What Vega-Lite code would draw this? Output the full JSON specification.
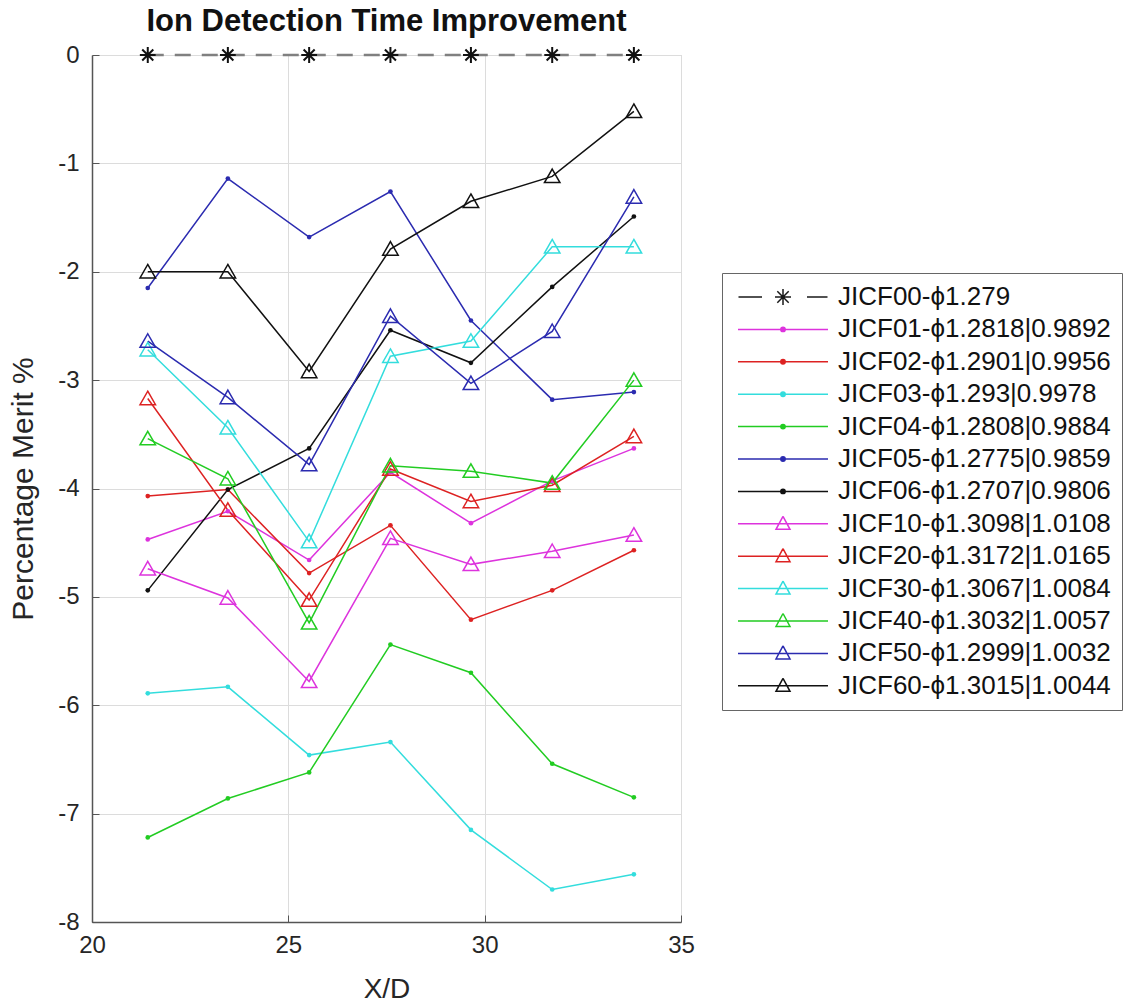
{
  "$schema": "https://vega.github.io/schema/vega-lite/v6.json",
  "width": 589,
  "height": 867,
  "autosize": {"type": "none"},
  "padding": {"left": 92, "top": 55, "right": 442, "bottom": 85},
  "background": "white",
  "title": {"text": "Ion Detection Time Improvement", "fontSize": 31, "fontWeight": "bold", "font": "Liberation Sans", "color": "#111111", "anchor": "middle", "offset": 5},
  "config": {
    "font": "Liberation Sans",
    "view": {"stroke": "#c8c8c8", "strokeWidth": 1}
  },
  "datasets": {
    "d": [
      {"s": "JICF00-ϕ1.279", "x": 21.42, "y": 0}, {"s": "JICF00-ϕ1.279", "x": 23.46, "y": 0}, {"s": "JICF00-ϕ1.279", "x": 25.53, "y": 0}, {"s": "JICF00-ϕ1.279", "x": 27.6, "y": 0}, {"s": "JICF00-ϕ1.279", "x": 29.65, "y": 0}, {"s": "JICF00-ϕ1.279", "x": 31.72, "y": 0}, {"s": "JICF00-ϕ1.279", "x": 33.8, "y": 0},
      {"s": "JICF01-ϕ1.2818|0.9892", "x": 21.42, "y": -4.47}, {"s": "JICF01-ϕ1.2818|0.9892", "x": 23.46, "y": -4.21}, {"s": "JICF01-ϕ1.2818|0.9892", "x": 25.53, "y": -4.66}, {"s": "JICF01-ϕ1.2818|0.9892", "x": 27.6, "y": -3.85}, {"s": "JICF01-ϕ1.2818|0.9892", "x": 29.65, "y": -4.32}, {"s": "JICF01-ϕ1.2818|0.9892", "x": 31.72, "y": -3.93}, {"s": "JICF01-ϕ1.2818|0.9892", "x": 33.8, "y": -3.63},
      {"s": "JICF02-ϕ1.2901|0.9956", "x": 21.42, "y": -4.07}, {"s": "JICF02-ϕ1.2901|0.9956", "x": 23.46, "y": -4.01}, {"s": "JICF02-ϕ1.2901|0.9956", "x": 25.53, "y": -4.78}, {"s": "JICF02-ϕ1.2901|0.9956", "x": 27.6, "y": -4.34}, {"s": "JICF02-ϕ1.2901|0.9956", "x": 29.65, "y": -5.21}, {"s": "JICF02-ϕ1.2901|0.9956", "x": 31.72, "y": -4.94}, {"s": "JICF02-ϕ1.2901|0.9956", "x": 33.8, "y": -4.57},
      {"s": "JICF03-ϕ1.293|0.9978", "x": 21.42, "y": -5.89}, {"s": "JICF03-ϕ1.293|0.9978", "x": 23.46, "y": -5.83}, {"s": "JICF03-ϕ1.293|0.9978", "x": 25.53, "y": -6.46}, {"s": "JICF03-ϕ1.293|0.9978", "x": 27.6, "y": -6.34}, {"s": "JICF03-ϕ1.293|0.9978", "x": 29.65, "y": -7.15}, {"s": "JICF03-ϕ1.293|0.9978", "x": 31.72, "y": -7.7}, {"s": "JICF03-ϕ1.293|0.9978", "x": 33.8, "y": -7.56},
      {"s": "JICF04-ϕ1.2808|0.9884", "x": 21.42, "y": -7.22}, {"s": "JICF04-ϕ1.2808|0.9884", "x": 23.46, "y": -6.86}, {"s": "JICF04-ϕ1.2808|0.9884", "x": 25.53, "y": -6.62}, {"s": "JICF04-ϕ1.2808|0.9884", "x": 27.6, "y": -5.44}, {"s": "JICF04-ϕ1.2808|0.9884", "x": 29.65, "y": -5.7}, {"s": "JICF04-ϕ1.2808|0.9884", "x": 31.72, "y": -6.54}, {"s": "JICF04-ϕ1.2808|0.9884", "x": 33.8, "y": -6.85},
      {"s": "JICF05-ϕ1.2775|0.9859", "x": 21.42, "y": -2.15}, {"s": "JICF05-ϕ1.2775|0.9859", "x": 23.46, "y": -1.14}, {"s": "JICF05-ϕ1.2775|0.9859", "x": 25.53, "y": -1.68}, {"s": "JICF05-ϕ1.2775|0.9859", "x": 27.6, "y": -1.26}, {"s": "JICF05-ϕ1.2775|0.9859", "x": 29.65, "y": -2.45}, {"s": "JICF05-ϕ1.2775|0.9859", "x": 31.72, "y": -3.18}, {"s": "JICF05-ϕ1.2775|0.9859", "x": 33.8, "y": -3.11},
      {"s": "JICF06-ϕ1.2707|0.9806", "x": 21.42, "y": -4.94}, {"s": "JICF06-ϕ1.2707|0.9806", "x": 23.46, "y": -4.01}, {"s": "JICF06-ϕ1.2707|0.9806", "x": 25.53, "y": -3.63}, {"s": "JICF06-ϕ1.2707|0.9806", "x": 27.6, "y": -2.54}, {"s": "JICF06-ϕ1.2707|0.9806", "x": 29.65, "y": -2.84}, {"s": "JICF06-ϕ1.2707|0.9806", "x": 31.72, "y": -2.14}, {"s": "JICF06-ϕ1.2707|0.9806", "x": 33.8, "y": -1.49},
      {"s": "JICF10-ϕ1.3098|1.0108", "x": 21.42, "y": -4.74}, {"s": "JICF10-ϕ1.3098|1.0108", "x": 23.46, "y": -5.01}, {"s": "JICF10-ϕ1.3098|1.0108", "x": 25.53, "y": -5.78}, {"s": "JICF10-ϕ1.3098|1.0108", "x": 27.6, "y": -4.46}, {"s": "JICF10-ϕ1.3098|1.0108", "x": 29.65, "y": -4.7}, {"s": "JICF10-ϕ1.3098|1.0108", "x": 31.72, "y": -4.58}, {"s": "JICF10-ϕ1.3098|1.0108", "x": 33.8, "y": -4.43},
      {"s": "JICF20-ϕ1.3172|1.0165", "x": 21.42, "y": -3.17}, {"s": "JICF20-ϕ1.3172|1.0165", "x": 23.46, "y": -4.2}, {"s": "JICF20-ϕ1.3172|1.0165", "x": 25.53, "y": -5.03}, {"s": "JICF20-ϕ1.3172|1.0165", "x": 27.6, "y": -3.82}, {"s": "JICF20-ϕ1.3172|1.0165", "x": 29.65, "y": -4.12}, {"s": "JICF20-ϕ1.3172|1.0165", "x": 31.72, "y": -3.97}, {"s": "JICF20-ϕ1.3172|1.0165", "x": 33.8, "y": -3.52},
      {"s": "JICF30-ϕ1.3067|1.0084", "x": 21.42, "y": -2.72}, {"s": "JICF30-ϕ1.3067|1.0084", "x": 23.46, "y": -3.44}, {"s": "JICF30-ϕ1.3067|1.0084", "x": 25.53, "y": -4.49}, {"s": "JICF30-ϕ1.3067|1.0084", "x": 27.6, "y": -2.78}, {"s": "JICF30-ϕ1.3067|1.0084", "x": 29.65, "y": -2.64}, {"s": "JICF30-ϕ1.3067|1.0084", "x": 31.72, "y": -1.77}, {"s": "JICF30-ϕ1.3067|1.0084", "x": 33.8, "y": -1.77},
      {"s": "JICF40-ϕ1.3032|1.0057", "x": 21.42, "y": -3.54}, {"s": "JICF40-ϕ1.3032|1.0057", "x": 23.46, "y": -3.91}, {"s": "JICF40-ϕ1.3032|1.0057", "x": 25.53, "y": -5.24}, {"s": "JICF40-ϕ1.3032|1.0057", "x": 27.6, "y": -3.79}, {"s": "JICF40-ϕ1.3032|1.0057", "x": 29.65, "y": -3.84}, {"s": "JICF40-ϕ1.3032|1.0057", "x": 31.72, "y": -3.95}, {"s": "JICF40-ϕ1.3032|1.0057", "x": 33.8, "y": -3.0},
      {"s": "JICF50-ϕ1.2999|1.0032", "x": 21.42, "y": -2.64}, {"s": "JICF50-ϕ1.2999|1.0032", "x": 23.46, "y": -3.16}, {"s": "JICF50-ϕ1.2999|1.0032", "x": 25.53, "y": -3.78}, {"s": "JICF50-ϕ1.2999|1.0032", "x": 27.6, "y": -2.41}, {"s": "JICF50-ϕ1.2999|1.0032", "x": 29.65, "y": -3.03}, {"s": "JICF50-ϕ1.2999|1.0032", "x": 31.72, "y": -2.55}, {"s": "JICF50-ϕ1.2999|1.0032", "x": 33.8, "y": -1.31},
      {"s": "JICF60-ϕ1.3015|1.0044", "x": 21.42, "y": -2.0}, {"s": "JICF60-ϕ1.3015|1.0044", "x": 23.46, "y": -2.0}, {"s": "JICF60-ϕ1.3015|1.0044", "x": 25.53, "y": -2.92}, {"s": "JICF60-ϕ1.3015|1.0044", "x": 27.6, "y": -1.79}, {"s": "JICF60-ϕ1.3015|1.0044", "x": 29.65, "y": -1.35}, {"s": "JICF60-ϕ1.3015|1.0044", "x": 31.72, "y": -1.12}, {"s": "JICF60-ϕ1.3015|1.0044", "x": 33.8, "y": -0.52}
    ]
  },
  "data": {"name": "d"},
  "encoding": {
    "x": {
      "field": "x", "type": "quantitative",
      "scale": {"domain": [20, 35], "nice": false, "zero": false},
      "axis": {
        "values": [20, 25, 30, 35], "title": "X/D", "titleFontSize": 28, "titleFontWeight": "normal", "titleColor": "#262626", "titlePadding": 18,
        "labelFontSize": 24, "labelColor": "#262626", "labelPadding": 18, "labelFlush": false, "labelExpr": "'' + datum.value",
        "domainColor": "#555555", "domainWidth": 1.5, "tickColor": "#555555", "tickSize": -7, "tickWidth": 1,
        "grid": true, "gridColor": "#dcdcdc", "gridWidth": 1
      }
    },
    "y": {
      "field": "y", "type": "quantitative",
      "scale": {"domain": [-8, 0], "nice": false, "zero": false},
      "axis": {
        "values": [-8, -7, -6, -5, -4, -3, -2, -1, 0], "title": "Percentage Merit %", "titleFontSize": 30, "titleFontWeight": "normal", "titleColor": "#262626", "titlePadding": 19,
        "labelFontSize": 24, "labelColor": "#262626", "labelPadding": 20, "labelFlush": false, "labelExpr": "'' + datum.value",
        "domainColor": "#555555", "domainWidth": 1.5, "tickColor": "#555555", "tickSize": -7, "tickWidth": 1,
        "grid": true, "gridColor": "#dcdcdc", "gridWidth": 1
      }
    }
  },
  "layer": [
    {
      "mark": {"type": "point", "filled": false, "opacity": 0},
      "encoding": {
        "color": {
          "field": "s", "type": "nominal",
          "scale": {
            "domain": ["JICF00-ϕ1.279", "JICF01-ϕ1.2818|0.9892", "JICF02-ϕ1.2901|0.9956", "JICF03-ϕ1.293|0.9978", "JICF04-ϕ1.2808|0.9884", "JICF05-ϕ1.2775|0.9859", "JICF06-ϕ1.2707|0.9806", "JICF10-ϕ1.3098|1.0108", "JICF20-ϕ1.3172|1.0165", "JICF30-ϕ1.3067|1.0084", "JICF40-ϕ1.3032|1.0057", "JICF50-ϕ1.2999|1.0032", "JICF60-ϕ1.3015|1.0044"],
            "range": ["#1a1a1a", "#dd33dd", "#dd2222", "#33dddd", "#22cc22", "#2b2bb0", "#111111", "#dd33dd", "#dd2222", "#33dddd", "#22cc22", "#2b2bb0", "#111111"]
          },
          "legend": {"title": null, "orient": "none", "legendX": 630, "legendY": 218, "symbolSize": 400, "symbolOffset": 37, "symbolStrokeWidth": 1.5, "symbolOpacity": 1, "symbolFillColor": "transparent", "labelFontSize": 26, "labelFont": "Liberation Sans", "labelColor": "#111111", "labelOffset": 42, "rowPadding": 6.4, "padding": 11, "strokeColor": "#666666", "fillColor": "white", "labelLimit": 500}
        },
        "shape": {
          "field": "s", "type": "nominal",
          "scale": {
            "domain": ["JICF00-ϕ1.279", "JICF01-ϕ1.2818|0.9892", "JICF02-ϕ1.2901|0.9956", "JICF03-ϕ1.293|0.9978", "JICF04-ϕ1.2808|0.9884", "JICF05-ϕ1.2775|0.9859", "JICF06-ϕ1.2707|0.9806", "JICF10-ϕ1.3098|1.0108", "JICF20-ϕ1.3172|1.0165", "JICF30-ϕ1.3067|1.0084", "JICF40-ϕ1.3032|1.0057", "JICF50-ϕ1.2999|1.0032", "JICF60-ϕ1.3015|1.0044"],
            "range": [
              "M-4.45,0H-2.1M2.4,0H4.45M0,-0.8V0.8M-0.8,0H0.8M-0.57,-0.57L0.57,0.57M-0.57,0.57L0.57,-0.57",
              "M-4.5,0H4.5M0.22,0A0.22,0.22 0 1,0 -0.22,0A0.22,0.22 0 1,0 0.22,0",
              "M-4.5,0H4.5M0.22,0A0.22,0.22 0 1,0 -0.22,0A0.22,0.22 0 1,0 0.22,0",
              "M-4.5,0H4.5M0.22,0A0.22,0.22 0 1,0 -0.22,0A0.22,0.22 0 1,0 0.22,0",
              "M-4.5,0H4.5M0.22,0A0.22,0.22 0 1,0 -0.22,0A0.22,0.22 0 1,0 0.22,0",
              "M-4.5,0H4.5M0.22,0A0.22,0.22 0 1,0 -0.22,0A0.22,0.22 0 1,0 0.22,0",
              "M-4.5,0H4.5M0.22,0A0.22,0.22 0 1,0 -0.22,0A0.22,0.22 0 1,0 0.22,0",
              "M-4.5,0H4.5M0,-0.75L0.7,0.55L-0.7,0.55L0,-0.75L-0.7,0.55L0.7,0.55L0,-0.75",
              "M-4.5,0H4.5M0,-0.75L0.7,0.55L-0.7,0.55L0,-0.75L-0.7,0.55L0.7,0.55L0,-0.75",
              "M-4.5,0H4.5M0,-0.75L0.7,0.55L-0.7,0.55L0,-0.75L-0.7,0.55L0.7,0.55L0,-0.75",
              "M-4.5,0H4.5M0,-0.75L0.7,0.55L-0.7,0.55L0,-0.75L-0.7,0.55L0.7,0.55L0,-0.75",
              "M-4.5,0H4.5M0,-0.75L0.7,0.55L-0.7,0.55L0,-0.75L-0.7,0.55L0.7,0.55L0,-0.75",
              "M-4.5,0H4.5M0,-0.75L0.7,0.55L-0.7,0.55L0,-0.75L-0.7,0.55L0.7,0.55L0,-0.75"
            ]
          },
          "legend": {"title": null, "orient": "none", "legendX": 630, "legendY": 218, "symbolSize": 400, "symbolOffset": 37, "symbolStrokeWidth": 1.5, "symbolOpacity": 1, "symbolFillColor": "transparent", "labelFontSize": 26, "labelFont": "Liberation Sans", "labelColor": "#111111", "labelOffset": 42, "rowPadding": 6.4, "padding": 11, "strokeColor": "#666666", "fillColor": "white", "labelLimit": 500}
        }
      }
    },
    {
      "transform": [{"filter": "datum.s !== 'JICF00-ϕ1.279'"}],
      "mark": {"type": "line", "strokeWidth": 1.5},
      "encoding": {"color": {"field": "s", "type": "nominal"}}
    },
    {
      "transform": [{"filter": "datum.s === 'JICF00-ϕ1.279'"}],
      "mark": {"type": "line", "strokeWidth": 2.5, "color": "#808080", "strokeDash": [16, 11]},
      "encoding": {}
    },
    {
      "transform": [{"filter": {"field": "s", "oneOf": ["JICF01-ϕ1.2818|0.9892", "JICF02-ϕ1.2901|0.9956", "JICF03-ϕ1.293|0.9978", "JICF04-ϕ1.2808|0.9884", "JICF05-ϕ1.2775|0.9859", "JICF06-ϕ1.2707|0.9806"]}}],
      "mark": {"type": "point", "filled": true, "shape": "circle", "size": 22, "opacity": 1},
      "encoding": {"color": {"field": "s", "type": "nominal"}}
    },
    {
      "transform": [{"filter": {"field": "s", "oneOf": ["JICF10-ϕ1.3098|1.0108", "JICF20-ϕ1.3172|1.0165", "JICF30-ϕ1.3067|1.0084", "JICF40-ϕ1.3032|1.0057", "JICF50-ϕ1.2999|1.0032", "JICF60-ϕ1.3015|1.0044"]}}],
      "mark": {"type": "point", "filled": false, "shape": "M0,-0.95L1,0.8L-1,0.8Z", "size": 240, "strokeWidth": 1.5, "opacity": 1},
      "encoding": {"color": {"field": "s", "type": "nominal"}}
    },
    {
      "transform": [{"filter": "datum.s === 'JICF00-ϕ1.279'"}],
      "mark": {"type": "point", "filled": false, "shape": "M0,-1V1M-1,0H1M-0.7,-0.7L0.7,0.7M-0.7,0.7L0.7,-0.7", "size": 250, "strokeWidth": 2, "color": "#111111", "opacity": 1},
      "encoding": {}
    }
  ]
}
